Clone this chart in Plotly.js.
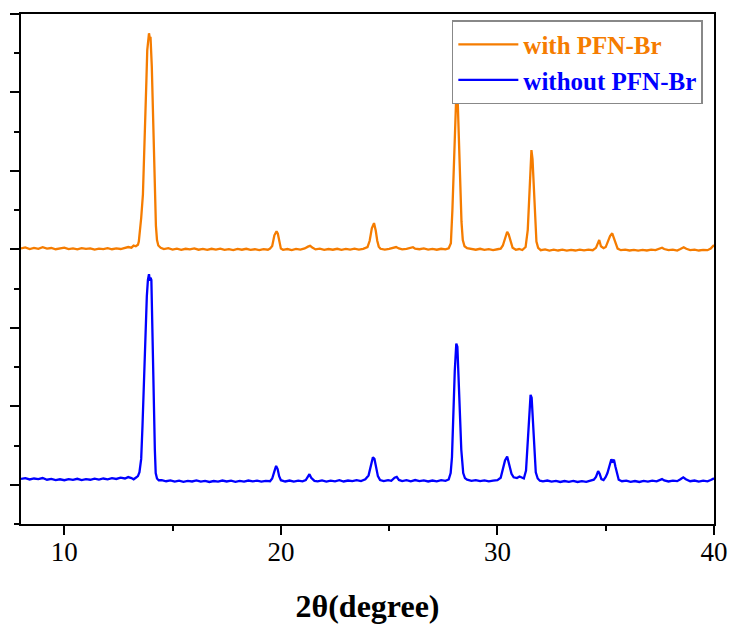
<!DOCTYPE html>
<html>
<head>
<meta charset="utf-8">
<script src="https://cdn.plot.ly/plotly-3.0.1.min.js"></script>
<style>html,body{margin:0;padding:0;background:#fff;}#chart{width:735px;height:627px;}</style>
</head>
<body>
<div id="chart"></div>
<script>
// 2θ (degree) and intensity (a.u., offset)
const twoThetaWith = [8.0,8.2,8.4,8.6,8.8,9.0,9.2,9.4,9.6,9.8,10.0,10.2,10.4,10.6,10.8,11.0,11.2,11.4,11.6,11.8,12.0,12.2,12.4,12.6,12.8,12.95,13.1,13.2,13.3,13.4,13.44,13.48,13.55,13.63,13.69,13.74,13.79,13.83,13.88,13.91,13.95,13.98,14.04,14.11,14.18,14.23,14.28,14.34,14.45,14.6,14.8,15.0,15.2,15.4,15.6,15.8,16.0,16.2,16.4,16.6,16.8,17.0,17.2,17.4,17.6,17.8,18.0,18.2,18.4,18.6,18.8,19.0,19.2,19.4,19.5,19.6,19.7,19.8,19.86,19.92,20.0,20.1,20.3,20.5,20.7,20.9,21.1,21.25,21.35,21.45,21.6,21.8,22.0,22.2,22.4,22.6,22.8,23.0,23.2,23.4,23.6,23.8,24.0,24.1,24.2,24.3,24.38,24.45,24.52,24.6,24.8,25.0,25.2,25.32,25.45,25.6,25.8,26.0,26.1,26.2,26.4,26.6,26.8,27.0,27.2,27.4,27.6,27.75,27.85,27.92,28.0,28.06,28.1,28.16,28.22,28.28,28.34,28.4,28.48,28.6,28.8,29.0,29.2,29.4,29.6,29.8,30.0,30.15,30.25,30.35,30.45,30.52,30.6,30.7,30.85,31.0,31.15,31.3,31.4,31.47,31.52,31.57,31.62,31.67,31.73,31.8,31.88,32.0,32.2,32.4,32.6,32.8,33.0,33.2,33.4,33.6,33.8,34.0,34.2,34.4,34.55,34.65,34.7,34.78,34.9,35.0,35.1,35.2,35.3,35.38,35.46,35.55,35.7,35.9,36.1,36.3,36.5,36.7,36.9,37.1,37.3,37.5,37.6,37.7,37.9,38.1,38.3,38.45,38.6,38.72,38.9,39.1,39.3,39.5,39.7,39.85,39.95,40.0];
const intensityWith = [4012,4025,4005,4020,4008,4028,4010,4018,4002,4015,4022,4004,4012,4000,4016,4006,4014,3998,4010,4004,4015,4002,4012,4005,4018,4030,4022,4048,4040,4060,4100,4200,4400,4700,5150,5690,6150,6540,6720,6755,6690,6711,6330,5480,4630,4300,4120,4050,4020,4005,4015,3998,4010,3995,4008,4000,4012,3996,4006,3994,4008,3998,4010,3995,4004,3992,4006,3996,4008,3994,4002,3990,4004,3996,4010,4045,4180,4230,4200,4095,4010,3995,4005,3992,4006,3998,4012,4035,4045,4025,4000,4010,3994,4005,3996,4008,3995,4006,3998,4010,3997,4008,4030,4110,4270,4335,4240,4110,4035,4008,3998,4006,4018,4030,4012,4000,4008,4015,4028,4010,4002,4012,3998,4006,3996,4008,4000,4015,4080,4500,5300,5800,5975,5940,5420,4800,4350,4120,4040,4015,4005,3996,4008,3994,4004,3992,4002,4010,4050,4150,4225,4190,4100,4020,3995,4005,3992,4030,4250,4700,5100,5265,5150,4800,4380,4100,4020,3990,4000,3985,3998,3986,3996,3984,3995,3986,3998,3988,3996,3990,4020,4100,4120,4040,4015,4030,4110,4170,4205,4150,4070,4010,3990,3996,3986,3995,3984,3994,3986,3996,3990,4010,4022,4005,3990,3998,3986,4005,4028,4008,3992,3998,3986,3995,3990,4010,4040,4056];

const twoThetaWithout = [8.0,8.2,8.4,8.6,8.8,9.0,9.2,9.4,9.6,9.8,10.0,10.2,10.4,10.6,10.8,11.0,11.2,11.4,11.6,11.8,12.0,12.2,12.4,12.6,12.8,12.95,13.1,13.2,13.3,13.4,13.47,13.55,13.61,13.66,13.71,13.75,13.81,13.86,13.91,13.95,13.98,14.02,14.06,14.1,14.14,14.18,14.22,14.28,14.36,14.5,14.7,14.9,15.1,15.3,15.5,15.7,15.9,16.1,16.3,16.5,16.7,16.9,17.1,17.3,17.5,17.7,17.9,18.1,18.3,18.5,18.7,18.9,19.1,19.3,19.5,19.6,19.7,19.78,19.85,19.92,20.0,20.2,20.4,20.6,20.8,21.0,21.15,21.25,21.32,21.4,21.55,21.7,21.9,22.1,22.3,22.5,22.7,22.9,23.1,23.3,23.5,23.7,23.9,24.05,24.15,24.25,24.32,24.4,24.48,24.58,24.75,24.95,25.1,25.25,25.35,25.45,25.6,25.8,26.0,26.2,26.4,26.6,26.8,27.0,27.2,27.4,27.6,27.75,27.84,27.9,27.96,28.03,28.1,28.15,28.2,28.26,28.33,28.42,28.5,28.6,28.8,29.0,29.2,29.4,29.6,29.8,30.0,30.15,30.25,30.35,30.45,30.55,30.65,30.75,30.9,31.02,31.12,31.22,31.32,31.4,31.48,31.53,31.58,31.64,31.7,31.77,31.86,31.96,32.1,32.3,32.5,32.7,32.9,33.1,33.3,33.5,33.7,33.9,34.1,34.3,34.45,34.55,34.65,34.72,34.8,34.9,35.0,35.08,35.18,35.26,35.32,35.38,35.45,35.52,35.6,35.75,35.95,36.15,36.35,36.55,36.75,36.95,37.15,37.35,37.5,37.6,37.7,37.9,38.1,38.3,38.45,38.58,38.7,38.9,39.1,39.3,39.5,39.7,39.85,39.95,40.0];
const intensityWithout = [1075,1085,1068,1080,1072,1086,1064,1074,1060,1070,1058,1072,1062,1076,1060,1072,1064,1078,1066,1080,1070,1084,1074,1090,1080,1098,1085,1070,1090,1110,1160,1330,1750,2170,2600,3010,3400,3610,3685,3600,3640,3610,3000,2450,1950,1450,1150,1080,1058,1060,1045,1055,1040,1052,1038,1050,1042,1056,1040,1050,1036,1048,1040,1054,1042,1052,1038,1050,1040,1054,1044,1052,1040,1050,1045,1080,1170,1240,1200,1110,1058,1042,1054,1040,1052,1044,1060,1110,1135,1090,1050,1044,1056,1040,1052,1044,1058,1042,1054,1046,1060,1048,1070,1120,1230,1350,1330,1240,1110,1060,1048,1060,1050,1090,1100,1062,1048,1058,1044,1060,1046,1056,1042,1054,1044,1058,1050,1068,1150,1350,1900,2450,2800,2760,2400,2030,1450,1150,1085,1065,1050,1060,1046,1056,1044,1054,1060,1090,1200,1310,1360,1260,1140,1095,1085,1105,1090,1080,1180,1600,2050,2145,2110,1850,1450,1160,1080,1052,1044,1054,1040,1050,1036,1048,1038,1050,1036,1046,1038,1050,1065,1100,1175,1140,1072,1060,1100,1150,1260,1325,1300,1320,1230,1140,1065,1045,1052,1038,1048,1036,1050,1040,1052,1044,1058,1072,1055,1042,1052,1046,1070,1095,1070,1045,1054,1040,1052,1044,1060,1075,1082];

const seriesNames = ['with PFN-Br', 'without PFN-Br'];
const xTickVals = [10, 20, 30, 40];
const xTickText = ['10', '20', '30', '40'];

const orange = '#F57C00';
const blue = '#0000FF';
const serif = 'Liberation Serif';

const traces = [
  {x: twoThetaWith, y: intensityWith, type: 'scatter', mode: 'lines',
   name: '<b><span style="color:' + orange + '">' + seriesNames[0] + '</span></b>',
   line: {color: orange, width: 2.3}},
  {x: twoThetaWithout, y: intensityWithout, type: 'scatter', mode: 'lines',
   name: '<b><span style="color:' + blue + '">' + seriesNames[1] + '</span></b>',
   line: {color: blue, width: 2.3}}
];

const layout = {
  width: 735, height: 627,
  margin: {l: 21, r: 21, t: 14, b: 103},
  paper_bgcolor: '#fff', plot_bgcolor: '#fff',
  showlegend: true,
  legend: {
    x: 0.6217, y: 0.988, xanchor: 'left', yanchor: 'top',
    bgcolor: '#fff', bordercolor: '#888', borderwidth: 1.5,
    font: {family: serif, size: 25, color: '#000'},
    itemwidth: 60, tracegroupgap: 0
  },
  xaxis: {
    range: [8, 40], tickvals: xTickVals, ticktext: xTickText,
    ticks: 'outside', ticklen: 9, tickwidth: 2, tickcolor: '#000',
    minor: {tickvals: [15, 25, 35], ticks: 'outside', ticklen: 5, tickwidth: 2, tickcolor: '#000'},
    showline: true, linewidth: 2, linecolor: '#000', mirror: true,
    showgrid: false, zeroline: false,
    tickfont: {family: serif, size: 27, color: '#000'},
    ticklabelstandoff: -6,
    title: {text: '<b>2θ(degree)</b>', font: {family: serif, size: 32, color: '#000'}, standoff: 28}
  },
  yaxis: {
    range: [500, 7000.5], tick0: 0, dtick: 1000,
    ticks: 'outside', ticklen: 9, tickwidth: 2, tickcolor: '#000',
    minor: {dtick: 500, ticks: 'outside', ticklen: 5, tickwidth: 2, tickcolor: '#000'},
    showticklabels: false,
    showline: true, linewidth: 2, linecolor: '#000', mirror: true,
    showgrid: false, zeroline: false
  }
};

Plotly.newPlot('chart', traces, layout, {staticPlot: true, displayModeBar: false});
</script>
</body>
</html>
